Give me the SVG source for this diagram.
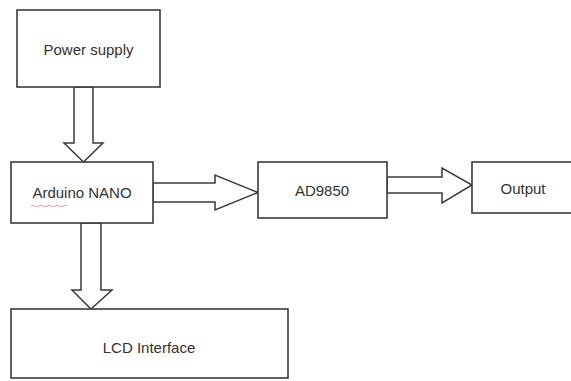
<svg xmlns="http://www.w3.org/2000/svg" width="571" height="381" viewBox="0 0 571 381">
<style>
.box{fill:#fff;stroke:#3a3a3a;stroke-width:1.6}
.arr{fill:#fff;stroke:#3a3a3a;stroke-width:1.5;stroke-linejoin:miter}
.lbl{font-family:"Liberation Sans",Arial,sans-serif;font-size:15px;fill:#333;text-anchor:middle;dominant-baseline:central}
</style>
<rect width="571" height="381" fill="#fff"/>
<g id="connectors">
<polygon class="arr" points="74,87 93,87 93,143 103,143 83.5,162 64,143 74,143"/>
<polygon class="arr" points="153,183 215,183 215,175 258,192.5 215,210 215,202 153,202"/>
<polygon class="arr" points="387,177 442,177 442,168 472,185 442,203 442,193 387,193"/>
<polygon class="arr" points="81,223 101,223 101,290 112,290 91,309 72,290 81,290"/>
</g>
<g id="power-supply">
<rect class="box" x="17" y="10" width="143" height="77"/>
<text class="lbl" x="88.5" y="49">Power supply</text>
</g>
<g id="arduino-nano">
<rect class="box" x="11" y="162" width="142" height="61"/>
<text class="lbl" x="82" y="192">Arduino NANO</text>
<path d="M31,206 q2,-1.5 4,0 t4,0 t4,0 t4,0 t4,0 t4,0 t4,0 t4,0 t4,0" fill="none" stroke="#e06060" stroke-width="0.9" opacity="0.7"/>
</g>
<g id="ad9850">
<rect class="box" x="258" y="162" width="129" height="56"/>
<text class="lbl" x="322" y="190">AD9850</text>
</g>
<g id="output">
<rect class="box" x="472" y="162" width="110" height="51"/>
<text class="lbl" x="523" y="188">Output</text>
</g>
<g id="lcd-interface">
<rect class="box" x="11" y="309" width="277" height="69"/>
<text class="lbl" x="149" y="347">LCD Interface</text>
</g>
</svg>
